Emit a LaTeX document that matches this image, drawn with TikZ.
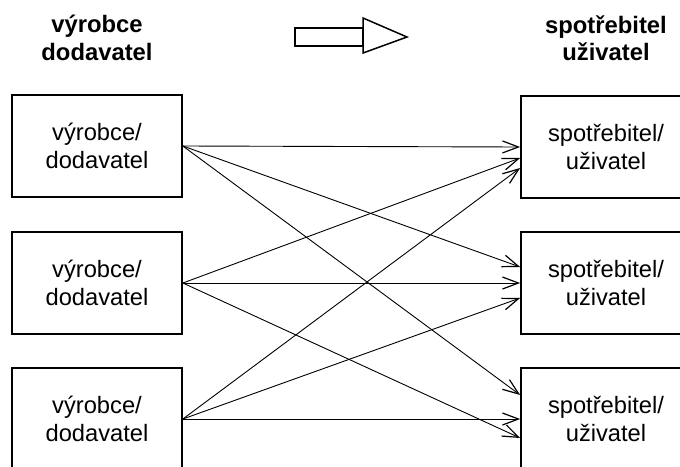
\documentclass[tikz,border=0pt]{standalone}
\usepackage{fontspec}
\setmainfont{Liberation Sans}
\usetikzlibrary{arrows.meta,calc}

\tikzset{
  party/.style={draw, line width=1.7pt, minimum width=170pt, minimum height=102pt,
    align=center, inner sep=0pt, font=\fontsize{23.7}{27.5}\selectfont},
  heading/.style={align=center, inner sep=0pt, font=\fontsize{23.8}{27.5}\selectfont\bfseries},
  flow/.style={line width=0.9pt, -{Straight Barb[length=16pt,width=12pt,line width=1.2pt]}},
  bigarrow/.style={draw, line width=1.5pt, fill=white, line join=miter}
}

\begin{document}
\begin{tikzpicture}[x=1pt,y=-1pt]
  \useasboundingbox (0,0) rectangle (680,466);
  \clip (0,0) rectangle (680,466);

  % column headings
  \node[heading] (hl) at (97,38) {výrobce\\dodavatel};
  \node[heading] (hr) at (606,38) {spotřebitel\\uživatel};

  % hollow direction arrow
  \draw[bigarrow] (295,28) rectangle (363,46);
  \draw[bigarrow] (363,18) -- (407,37) -- (363,53) -- cycle;

  % suppliers
  \node[party] (l1) at (97,146) {výrobce/\\dodavatel};
  \node[party] (l2) at (97,283) {výrobce/\\dodavatel};
  \node[party] (l3) at (97,419) {výrobce/\\dodavatel};

  % consumers
  \node[party] (r1) at (606,147) {spotřebitel/\\uživatel};
  \node[party] (r2) at (606,283) {spotřebitel/\\uživatel};
  \node[party] (r3) at (606,419) {spotřebitel/\\uživatel};

  % every supplier reaches every consumer
  \draw[flow] (l1.east) -- (r1.west);
  \draw[flow] (l1.east) -- ($(r2.west)+(0,-16)$);
  \draw[flow] (l1.east) -- ($(r3.west)+(0,-24)$);
  \draw[flow] (l2.east) -- ($(r1.west)+(0,11)$);
  \draw[flow] (l2.east) -- (r2.west);
  \draw[flow] (l2.east) -- ($(r3.west)+(0,19)$);
  \draw[flow] (l3.east) -- ($(r1.west)+(0,21)$);
  \draw[flow] (l3.east) -- ($(r2.west)+(0,15)$);
  \draw[flow] (l3.east) -- (r3.west);
\end{tikzpicture}
\end{document}
